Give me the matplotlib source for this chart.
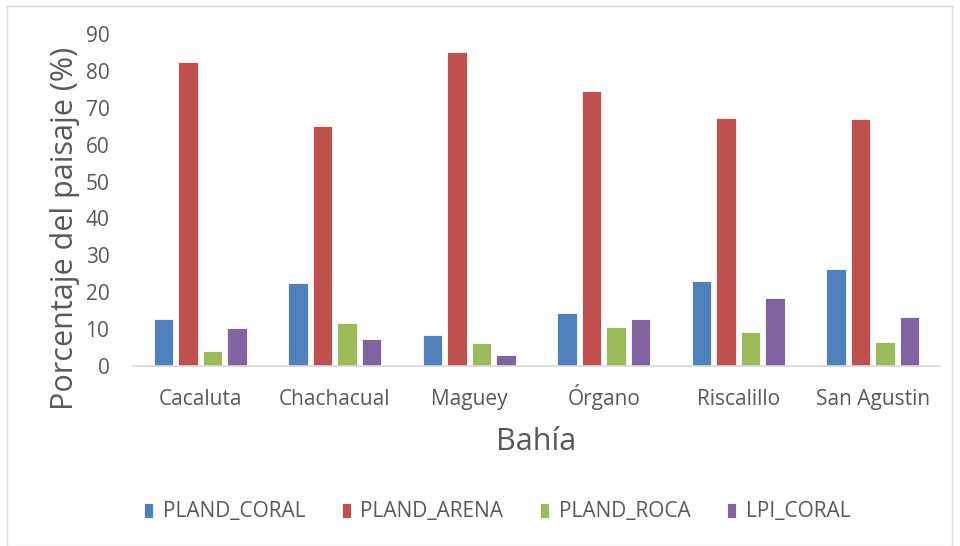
import numpy as np
import matplotlib
matplotlib.use("Agg")
import matplotlib.pyplot as plt
from matplotlib.patches import Rectangle

plt.rcParams['font.family'] = ['Open Sans', 'DejaVu Sans']

bahias = ["Cacaluta", "Chachacual", "Maguey", "Órgano", "Riscalillo", "San Agustin"]
pland_coral = [12.7, 22.6, 8.3, 14.3, 23.1, 26.3]
pland_arena = [82.5, 65.1, 85.2, 74.5, 67.1, 66.9]
pland_roca = [4.1, 11.7, 6.1, 10.7, 9.3, 6.4]
lpi_coral = [10.3, 7.4, 2.9, 12.8, 18.3, 13.3]

series = [("PLAND_CORAL", pland_coral, "#4f81bd"),
          ("PLAND_ARENA", pland_arena, "#c0504d"),
          ("PLAND_ROCA", pland_roca, "#9bbb59"),
          ("LPI_CORAL", lpi_coral, "#8064a2")]

fig = plt.figure(figsize=(9.6, 5.46), dpi=100)
ax = fig.add_axes([133/960, 1 - 366/546, 807/960, (366 - 34)/546])

x = np.arange(len(bahias))
step = 0.182
width = 0.142
for i, (name, vals, col) in enumerate(series):
    ax.bar(x + (i - 1.5) * step, vals, width, color=col, label=name,
           edgecolor="white", linewidth=0.6)

ax.set_xlim(-0.5, len(bahias) - 0.5)
ax.set_ylim(0, 90)
ax.set_yticks(range(0, 91, 10))
ax.set_xticks(x)
ax.set_xticklabels(bahias, va="baseline")
ax.tick_params(axis="both", length=0, labelsize=15, colors="#595959")
ax.tick_params(axis="x", pad=28)
ax.tick_params(axis="y", pad=17)
for s in ["top", "right", "left"]:
    ax.spines[s].set_visible(False)
ax.spines["bottom"].set_color("#d9d9d9")
ax.spines["bottom"].set_linewidth(1.2)

ax.set_ylabel("Porcentaje del paisaje (%)", fontsize=22, color="#595959")
ax.yaxis.set_label_coords((80 - 133) / 807, 0.413)
ax.set_xlabel("Bahía", fontsize=22, color="#595959", labelpad=12)

leg = fig.legend(loc="center", bbox_to_anchor=(497/960, 1 - 512/546), ncol=4,
                 frameon=False, fontsize=15, handlelength=0.45, handleheight=0.7,
                 columnspacing=1.75, handletextpad=0.45)
for t in leg.get_texts():
    t.set_color("#595959")

fig.patches.append(Rectangle((7/960, 0), 945/960, 1 - 6/546, transform=fig.transFigure,
                             fill=False, edgecolor="#d9d9d9", linewidth=1))

fig.savefig("out.png", dpi=100)
